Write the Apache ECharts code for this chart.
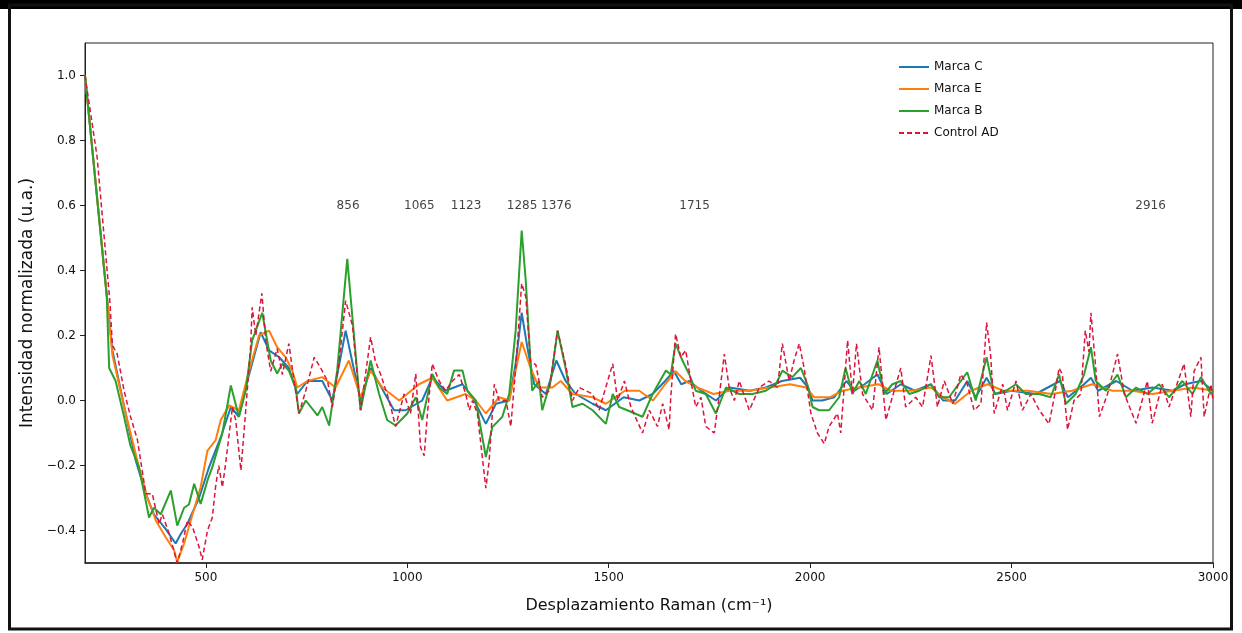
<!DOCTYPE html>
<html>
<head>
<meta charset="utf-8">
<script src="https://cdn.jsdelivr.net/npm/echarts@6/dist/echarts.min.js"></script>
<style>html,body{margin:0;padding:0;background:#fff;}#chart{width:1242px;height:633px;}</style>
</head>
<body>
<div id="chart"></div>
<script>
// ---------- DATA ----------
const seriesNames = ['Marca C', 'Marca E', 'Marca B', 'Control AD'];
const xTicks = [500, 1000, 1500, 2000, 2500, 3000];
const yTicks = [-0.4, -0.2, 0.0, 0.2, 0.4, 0.6, 0.8, 1.0];
const peakLabels = ['856', '1065', '1123', '1285', '1376', '1715', '2916'];
const peakLabelX = [853, 1030, 1146, 1285, 1370, 1713, 2845];
const peakLabelY = 0.6;

// Marca C (blue)
const cX = [200,256,268,301,326,351,371,400,425,438,454,483,508,537,562,582,603,636,657,682,706,727,752,789,814,847,884,909,938,967,996,1037,1062,1095,1137,1162,1195,1220,1253,1269,1284,1298,1315,1344,1370,1393,1418,1460,1493,1537,1576,1609,1640,1662,1680,1700,1730,1766,1800,1850,1890,1930,1975,1995,2006,2030,2060,2090,2110,2135,2167,2190,2225,2260,2300,2330,2360,2390,2411,2438,2460,2500,2560,2620,2640,2680,2697,2715,2760,2800,2850,2900,2930,2970,3000];
const cY = [1.0,0.30,0.154,-0.04,-0.185,-0.287,-0.35,-0.395,-0.44,-0.41,-0.38,-0.30,-0.205,-0.113,-0.02,-0.05,0.06,0.21,0.154,0.133,0.10,0.02,0.06,0.06,0.0,0.215,0.0,0.10,0.035,-0.03,-0.03,0.0,0.07,0.03,0.05,0.01,-0.072,-0.01,0.0,0.113,0.27,0.164,0.05,0.02,0.123,0.06,0.02,-0.01,-0.03,0.01,0.0,0.02,0.06,0.09,0.05,0.06,0.03,0.0,0.04,0.03,0.04,0.06,0.07,0.04,0.0,0.0,0.01,0.06,0.03,0.05,0.08,0.02,0.05,0.03,0.05,0.0,0.0,0.06,0.01,0.07,0.02,0.03,0.02,0.06,0.01,0.05,0.07,0.03,0.06,0.03,0.04,0.03,0.05,0.06,0.03];

// Marca E (orange)
const eX = [200,256,268,301,334,355,376,400,421,429,446,467,487,504,524,537,558,582,607,632,657,677,698,715,727,752,789,822,855,884,909,938,980,1029,1062,1099,1145,1170,1195,1228,1253,1284,1306,1327,1360,1381,1410,1460,1493,1540,1576,1610,1640,1666,1690,1720,1760,1800,1850,1900,1950,1990,2010,2050,2080,2120,2170,2200,2250,2300,2330,2360,2400,2440,2480,2540,2600,2650,2700,2750,2800,2850,2900,2950,3000];
const eY = [1.0,0.30,0.14,-0.04,-0.205,-0.30,-0.37,-0.42,-0.46,-0.497,-0.44,-0.35,-0.267,-0.154,-0.123,-0.06,-0.015,-0.03,0.09,0.20,0.215,0.164,0.133,0.09,0.04,0.06,0.072,0.04,0.123,0.01,0.092,0.04,0.0,0.05,0.07,0.0,0.02,0.0,-0.04,0.01,0.0,0.18,0.10,0.04,0.04,0.06,0.02,0.01,-0.01,0.03,0.03,0.0,0.05,0.09,0.06,0.04,0.02,0.03,0.03,0.04,0.05,0.04,0.01,0.01,0.03,0.04,0.05,0.03,0.03,0.04,0.01,-0.01,0.03,0.05,0.03,0.03,0.02,0.03,0.05,0.03,0.03,0.02,0.03,0.04,0.03];

// Marca B (green)
const bX = [200,254,260,276,297,313,334,359,371,388,413,429,446,458,471,487,504,516,541,562,582,599,615,640,661,677,690,706,723,731,748,777,789,806,826,851,884,909,930,950,971,1000,1021,1037,1062,1079,1099,1116,1137,1149,1170,1195,1211,1236,1253,1269,1284,1294,1310,1327,1335,1356,1373,1393,1410,1435,1460,1493,1510,1526,1546,1584,1609,1642,1654,1666,1683,1700,1716,1741,1766,1791,1824,1857,1890,1915,1931,1956,1977,1993,2006,2022,2047,2072,2088,2105,2122,2138,2167,2184,2204,2225,2246,2271,2300,2320,2345,2374,2390,2411,2438,2457,2486,2511,2535,2569,2597,2618,2635,2659,2680,2697,2709,2734,2763,2784,2809,2837,2866,2891,2924,2949,2970,2995,3000];
const bY = [1.0,0.32,0.10,0.06,-0.05,-0.14,-0.205,-0.36,-0.33,-0.35,-0.277,-0.385,-0.33,-0.32,-0.256,-0.318,-0.246,-0.205,-0.10,0.046,-0.05,0.03,0.185,0.27,0.123,0.083,0.113,0.092,0.04,-0.04,0.0,-0.046,-0.02,-0.077,0.092,0.436,-0.03,0.123,0.02,-0.06,-0.077,-0.04,0.01,-0.06,0.082,0.04,0.02,0.092,0.092,0.03,0.0,-0.174,-0.082,-0.05,0.02,0.215,0.523,0.37,0.03,0.06,-0.03,0.06,0.215,0.10,-0.02,-0.01,-0.03,-0.072,0.02,-0.02,-0.03,-0.05,0.02,0.092,0.08,0.175,0.123,0.08,0.03,0.02,-0.04,0.04,0.02,0.02,0.03,0.05,0.092,0.072,0.10,0.05,-0.02,-0.03,-0.03,0.01,0.10,0.02,0.06,0.02,0.123,0.02,0.05,0.06,0.02,0.03,0.05,0.01,0.01,0.06,0.087,0.0,0.133,0.02,0.03,0.05,0.02,0.02,0.01,0.08,-0.01,0.02,0.08,0.164,0.06,0.03,0.08,0.01,0.04,0.02,0.05,0.01,0.06,0.02,0.072,0.02,0.03];

// Control AD (red dashed)
const adX = [200,230,262,268,280,297,313,330,351,367,384,392,409,429,442,454,467,483,491,504,516,524,532,541,549,566,574,587,599,611,615,624,639,649,661,677,690,706,719,731,748,769,785,802,814,831,847,864,884,909,921,934,955,971,992,1008,1021,1033,1042,1050,1062,1079,1095,1112,1129,1145,1154,1162,1174,1191,1195,1203,1216,1228,1245,1257,1269,1284,1294,1306,1319,1335,1352,1373,1393,1410,1427,1460,1476,1510,1522,1539,1555,1584,1601,1621,1634,1650,1654,1666,1679,1691,1704,1716,1729,1741,1762,1775,1787,1799,1812,1824,1849,1874,1898,1919,1931,1948,1960,1973,1985,2002,2018,2035,2047,2068,2076,2093,2105,2115,2130,2155,2171,2188,2204,2225,2237,2262,2279,2300,2316,2333,2354,2374,2390,2407,2424,2438,2448,2457,2478,2490,2511,2527,2548,2569,2593,2606,2618,2626,2639,2655,2672,2683,2692,2697,2709,2718,2738,2763,2780,2809,2837,2849,2874,2891,2928,2945,2953,2970,2978,2995,3000];
const adY = [1.0,0.75,0.30,0.17,0.143,0.03,-0.05,-0.12,-0.287,-0.287,-0.38,-0.35,-0.41,-0.50,-0.44,-0.37,-0.39,-0.45,-0.49,-0.40,-0.36,-0.267,-0.20,-0.267,-0.195,-0.02,-0.06,-0.215,-0.03,0.164,0.287,0.20,0.33,0.18,0.09,0.16,0.08,0.175,0.06,-0.04,0.03,0.133,0.10,0.06,-0.02,0.123,0.307,0.23,-0.03,0.195,0.12,0.08,0.0,-0.08,0.02,-0.04,0.082,-0.144,-0.17,-0.04,0.113,0.06,0.03,0.06,0.08,0.02,-0.03,0.0,-0.04,-0.226,-0.27,-0.19,0.05,0.0,0.0,-0.08,0.10,0.36,0.32,0.12,0.11,0.01,0.03,0.215,0.11,0.0,0.04,0.02,-0.03,0.113,0.0,0.06,-0.02,-0.10,-0.03,-0.08,-0.01,-0.09,0.01,0.205,0.133,0.154,0.06,-0.02,0.01,-0.08,-0.10,0.02,0.143,0.04,0.0,0.06,-0.03,0.04,0.06,0.04,0.175,0.06,0.123,0.175,0.10,-0.04,-0.10,-0.133,-0.08,-0.04,-0.10,0.185,0.02,0.175,0.02,-0.03,0.164,-0.06,0.01,0.10,-0.02,0.01,-0.02,0.138,-0.02,0.06,-0.01,0.08,0.05,-0.03,-0.01,0.24,0.14,-0.04,0.05,-0.03,0.06,-0.03,0.02,-0.03,-0.072,0.01,0.10,0.08,-0.09,0.0,0.02,0.215,0.15,0.27,0.10,-0.05,0.02,0.143,0.02,-0.07,0.06,-0.07,0.05,-0.02,0.113,-0.05,0.09,0.133,-0.05,0.05,0.0];

// ---------- CHART ----------
const zip = (xs, ys) => xs.map((x, i) => [x, ys[i]]);
const colors = ['#1f77b4', '#ff7f0e', '#2ca02c', '#dc143c'];
const FONT = 'DejaVu Sans';
const fmtY = v => (Math.abs(v) < 1e-9 ? '0.0' : v.toFixed(1).replace('-', '\u2212'));

const chart = echarts.init(document.getElementById('chart'), null, {renderer: 'canvas'});
const lineData = [zip(cX, cY), zip(eX, eY), zip(bX, bY), zip(adX, adY)];

const series = lineData.map((d, i) => ({
  name: seriesNames[i],
  type: 'line',
  data: d,
  symbol: 'none',
  smooth: false,
  clip: true,
  z: 2 + i,
  lineStyle: {
    color: colors[i],
    width: i === 3 ? 1.5 : 2,
    type: i === 3 ? [5, 3] : 'solid'
  },
  itemStyle: {color: colors[i]}
}));

series.push({
  name: 'peaks',
  type: 'scatter',
  silent: true,
  symbolSize: 1,
  itemStyle: {color: 'rgba(0,0,0,0)'},
  data: peakLabelX.map((x, i) => ({value: [x, peakLabelY], name: peakLabels[i]})),
  label: {show: true, position: 'inside', formatter: '{b}', color: '#111', fontSize: 12, fontFamily: FONT},
  z: 10
});

chart.setOption({
  animation: false,
  backgroundColor: '#ffffff',
  textStyle: {fontFamily: FONT},
  grid: {left: 85, right: 29, top: 43, bottom: 70, show: true, borderColor: '#222', borderWidth: 1},
  legend: {
    data: seriesNames,
    orient: 'vertical',
    left: 893,
    top: 56,
    itemWidth: 30,
    itemHeight: 14,
    itemGap: 10,
    itemStyle: {opacity: 0, borderWidth: 0},
    lineStyle: {width: 2},
    textStyle: {fontSize: 12, color: '#111', fontFamily: FONT}
  },
  xAxis: {
    type: 'value', min: 200, max: 3000,
    name: 'Desplazamiento Raman (cm\u207B\u00B9)',
    nameLocation: 'middle', nameGap: 35,
    nameTextStyle: {fontSize: 16, color: '#111', fontFamily: FONT},
    axisLine: {show: true, onZero: false, lineStyle: {color: '#222', width: 1.5}},
    axisTick: {show: true, length: 5, customValues: xTicks, lineStyle: {color: '#222'}},
    axisLabel: {customValues: xTicks, color: '#111', fontSize: 12, fontFamily: FONT, margin: 9, formatter: v => String(v)},
    splitLine: {show: false}
  },
  yAxis: {
    type: 'value', min: -0.5, max: 1.1,
    name: 'Intensidad normalizada (u.a.)',
    nameLocation: 'middle', nameGap: 44,
    nameTextStyle: {fontSize: 17, color: '#111', fontFamily: FONT},
    axisLine: {show: true, onZero: false, lineStyle: {color: '#222', width: 1}},
    axisTick: {show: true, length: 5, customValues: yTicks, lineStyle: {color: '#222'}},
    axisLabel: {customValues: yTicks, color: '#111', fontSize: 12, fontFamily: FONT, margin: 9, formatter: fmtY},
    splitLine: {show: false}
  },
  graphic: [
    {type: 'rect', shape: {x: 0, y: 0, width: 1242, height: 9}, style: {fill: '#000'}, z: 100},
    {type: 'rect', shape: {x: 9.5, y: 5, width: 1222, height: 624}, style: {fill: 'none', stroke: '#111', lineWidth: 3}, z: 100}
  ],
  series: series
});
</script>
</body>
</html>
